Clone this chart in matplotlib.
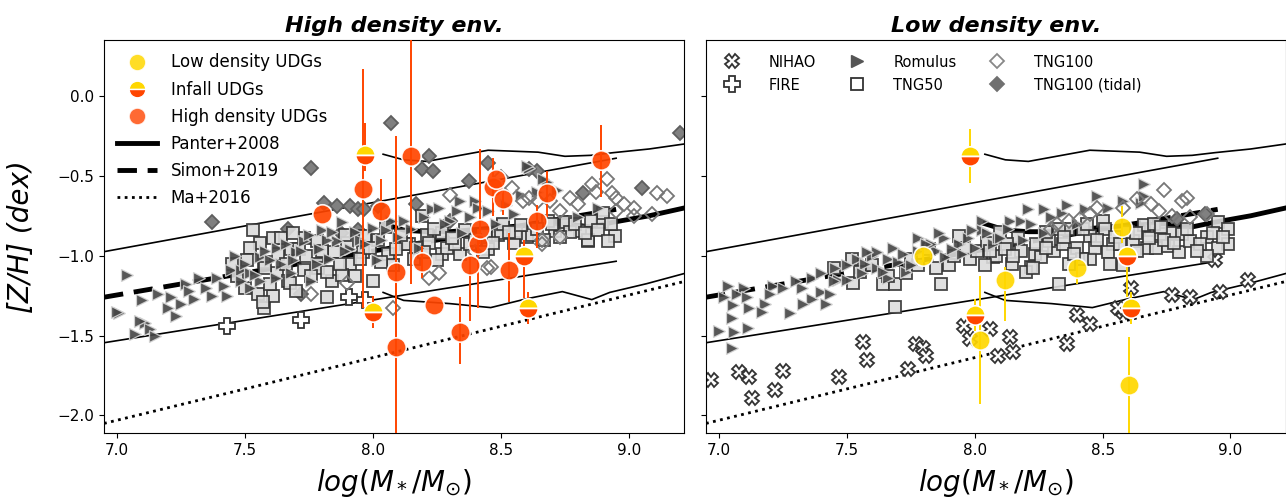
import matplotlib
matplotlib.use("Agg")
import matplotlib.pyplot as plt
from matplotlib.lines import Line2D

# ---------------- data ----------------
# reference relations
simon_x = [6.95, 8.95]
simon_y = [-1.26, -0.71]
simon_hi = [-0.975, -0.39]
simon_lo = [-1.545, -1.035]

panter_x = [8.04, 8.12, 8.21, 8.30, 8.45, 8.60, 8.75, 8.85, 8.94, 9.08, 9.22]
panter_y = [-0.80, -0.84, -0.85, -0.85, -0.83, -0.81, -0.80, -0.82, -0.79, -0.75, -0.70]
panter_hi_x = [8.04, 8.12, 8.21, 8.45, 8.645, 8.75, 8.85, 8.94, 9.08, 9.22]
panter_hi_y = [-0.365, -0.40, -0.41, -0.34, -0.352, -0.378, -0.372, -0.355, -0.332, -0.30]
panter_lo_x = [8.04, 8.12, 8.30, 8.46, 8.60, 8.74, 8.855, 8.925, 9.07, 9.22]
panter_lo_y = [-1.23, -1.28, -1.30, -1.325, -1.27, -1.225, -1.275, -1.23, -1.175, -1.11]

ma_x = [6.95, 9.22]
ma_y = [-2.05, -1.16]

# ---- high density panel: simulations ----
hi_rom = [(7.04, -1.12), (7.01, -1.36), (7.10, -1.28), (7.11, -1.42), (7.16, -1.24), (7.21, -1.26),
          (7.25, -1.30), (7.27, -1.18), (7.32, -1.14), (7.37, -1.25), (7.39, -1.14), (7.42, -1.19),
          (7.00, -1.35), (7.09, -1.41), (7.07, -1.49), (7.13, -1.46), (7.445, -1.09), (7.485, -1.09),
          (7.485, -1.16), (7.52, -1.20), (7.56, -1.01), (7.56, -1.16), (7.625, -0.95), (7.64, -1.05),
          (7.68, -1.11), (7.73, -0.91), (7.76, -1.16), (7.80, -0.84), (7.86, -0.91), (7.91, -0.96),
          (8.00, -0.825), (8.05, -0.84), (8.015, -1.03), (8.23, -0.71), (8.30, -0.78), (8.40, -0.66),
          (8.61, -0.45), (8.68, -0.54), (8.60, -0.44), (8.665, -0.52), (8.26, -0.70), (8.34, -0.655),
          (8.41, -0.70), (8.72, -0.59), (7.60, -1.03), (7.70, -0.98), (7.83, -1.02), (7.95, -0.90),
          (8.10, -0.88), (8.18, -0.95), (8.35, -0.86), (8.48, -0.80), (8.55, -0.74), (8.80, -0.76),
          (8.88, -0.70), (7.52, -1.11), (7.78, -1.05), (7.88, -0.79), (8.12, -0.78), (7.20, -1.33),
          (7.30, -1.27), (7.15, -1.50), (7.46, -1.00), (7.50, -1.05), (7.54, -1.12), (7.58, -0.97),
          (7.62, -1.14), (7.66, -0.93), (7.69, -1.03), (7.72, -0.97), (7.75, -0.87), (7.79, -0.96),
          (7.82, -0.90), (7.84, -0.85), (7.89, -0.97), (7.93, -0.85), (7.97, -0.93), (8.03, -0.90),
          (8.07, -0.78), (8.15, -0.83), (8.20, -0.76), (8.28, -0.80), (8.33, -0.72), (8.38, -0.76),
          (8.45, -0.72), (8.52, -0.68), (8.58, -0.62), (8.64, -0.60), (7.35, -1.20), (7.43, -1.25),
          (7.28, -1.22), (7.23, -1.38)]
hi_tng50 = [(7.53, -0.84), (7.56, -0.92), (7.52, -0.95), (7.61, -0.89), (7.64, -0.89), (7.68, -0.96),
            (7.71, -0.96), (7.51, -1.03), (7.575, -1.04), (7.625, -1.11), (7.67, -1.16), (7.73, -1.09),
            (7.78, -0.91), (7.78, -1.05), (7.84, -1.16), (7.85, -0.98), (7.91, -1.05), (7.97, -0.875),
            (8.00, -1.16), (7.575, -1.33), (7.61, -1.25), (7.55, -1.24), (7.50, -1.20), (7.73, -0.89),
            (7.82, -1.26), (7.88, -1.12), (7.675, -1.17), (7.785, -1.075), (7.96, -0.98), (8.06, -0.99),
            (8.14, -0.93), (8.21, -0.87), (8.27, -0.99), (8.34, -0.99), (8.44, -0.87), (8.49, -0.87),
            (8.51, -0.81), (8.55, -0.92), (8.60, -0.88), (8.71, -0.845), (8.75, -0.81), (8.81, -0.845),
            (8.84, -0.91), (8.895, -0.79), (8.945, -0.875), (8.685, -0.78), (8.90, -0.73), (8.19, -0.75),
            (8.13, -0.925), (8.17, -0.95), (8.22, -0.92), (8.29, -0.95), (8.32, -0.93), (8.50, -0.86),
            (8.56, -0.86), (8.62, -0.87), (8.70, -0.80), (8.755, -0.79), (8.77, -0.85), (8.85, -0.78),
            (8.84, -0.905), (8.51, -0.80), (8.27, -0.86), (8.02, -0.90), (8.08, -1.06), (7.90, -0.92),
            (8.38, -0.93), (8.45, -0.96), (7.57, -1.29), (7.45, -1.05), (7.47, -1.13), (7.58, -1.08),
            (7.60, -1.18), (7.63, -0.99), (7.66, -1.05), (7.70, -1.22), (7.74, -1.00), (7.76, -1.13),
            (7.80, -0.97), (7.82, -1.10), (7.87, -1.05), (7.89, -0.87), (7.93, -1.13), (7.95, -1.02),
            (7.99, -0.95), (8.03, -1.04), (8.05, -0.82), (8.09, -0.96), (8.11, -0.87), (8.16, -1.02),
            (8.20, -0.98), (8.24, -0.83), (8.25, -1.03), (8.31, -0.89), (8.36, -0.84), (8.40, -0.90),
            (8.43, -0.98), (8.47, -0.92), (8.53, -0.85), (8.58, -0.81), (8.64, -0.83), (8.67, -0.90),
            (8.73, -0.88), (8.79, -0.80), (8.83, -0.86), (8.88, -0.84), (8.92, -0.91), (8.93, -0.80),
            (7.69, -0.86)]
hi_tng100 = [(8.61, -0.64), (8.69, -0.66), (8.77, -0.64), (8.80, -0.675), (8.855, -0.55), (8.915, -0.52),
             (8.935, -0.61), (8.95, -0.64), (8.98, -0.675), (9.02, -0.70), (9.11, -0.61), (9.15, -0.625),
             (9.09, -0.74), (9.02, -0.75), (8.95, -0.72), (8.73, -0.72), (8.645, -0.66), (8.585, -0.66),
             (8.50, -0.51), (8.545, -0.575), (8.66, -0.925), (8.73, -0.885), (8.46, -1.07), (8.26, -1.11),
             (8.22, -1.14), (8.08, -1.325), (7.90, -1.17), (7.76, -1.24), (8.445, -1.075), (8.66, -0.905),
             (8.87, -0.60), (8.40, -0.98), (8.30, -0.62)]
hi_tidal = [(7.37, -0.79), (7.67, -0.83), (7.76, -0.45), (7.81, -0.67), (7.86, -0.69), (7.91, -0.69),
            (7.94, -0.71), (7.965, -0.71), (7.875, -0.86), (7.94, -0.84), (8.07, -0.17), (8.22, -0.375),
            (8.19, -0.46), (8.235, -0.47), (8.45, -0.42), (8.375, -0.53), (8.64, -0.47), (8.61, -0.46),
            (9.05, -0.575), (9.20, -0.23), (8.17, -0.675), (8.82, -0.61), (7.72, -1.24), (8.02, -0.69),
            (8.30, -0.78)]
hi_fire = [(7.43, -1.44), (7.72, -1.40), (7.905, -1.26), (7.97, -1.28)]

# ---- high density panel: observed UDGs (x, y, err_lo, err_hi) ----
hi_udg = [(7.80, -0.74, 0.0, 0.0), (7.96, -0.58, 0.75, 0.75), (8.03, -0.72, 0.06, 0.20),
          (8.09, -1.10, 0.50, 0.85), (8.15, -0.375, 0.80, 0.90), (8.19, -1.04, 0.10, 0.10),
          (8.24, -1.31, 0.0, 0.0), (8.34, -1.48, 0.20, 0.22), (8.38, -1.06, 0.35, 0.05),
          (8.41, -0.93, 0.40, 0.10), (8.42, -0.83, 0.10, 0.50), (8.47, -0.57, 0.18, 0.18),
          (8.48, -0.52, 0.0, 0.0), (8.51, -0.645, 0.10, 0.10), (8.53, -1.09, 0.20, 0.23),
          (8.64, -0.78, 0.17, 0.10), (8.68, -0.61, 0.15, 0.14), (8.89, -0.40, 0.23, 0.22),
          (8.09, -1.57, 0.80, 0.50)]
hi_infall = [(7.97, -0.37, 0.10, 0.20), (8.00, -1.355, 0.10, 0.10),
             (8.59, -1.005, 0.26, 0.10), (8.605, -1.33, 0.10, 0.10)]

# ---- low density panel: simulations ----
lo_rom = [(7.035, -1.19), (7.10, -1.20), (7.07, -1.24), (7.11, -1.26), (7.055, -1.31), (7.18, -1.30),
          (7.17, -1.35), (7.28, -1.36), (7.05, -1.39), (7.00, -1.47), (7.06, -1.48), (7.115, -1.45),
          (7.21, -1.19), (7.25, -1.20), (7.325, -1.20), (7.365, -1.27), (7.40, -1.23), (7.435, -1.24),
          (7.42, -1.30), (7.365, -1.14), (7.40, -1.11), (7.455, -1.08), (7.465, -1.155), (7.54, -1.02),
          (7.57, -1.05), (7.60, -1.00), (7.62, -1.075), (7.66, -1.02), (7.70, -1.04), (7.78, -0.89),
          (7.85, -0.97), (7.88, -0.89), (7.885, -1.01), (7.94, -0.925), (7.975, -0.89), (8.03, -0.78),
          (8.03, -0.84), (8.07, -0.93), (8.09, -0.89), (7.73, -1.105), (7.66, -1.14), (7.56, -1.11),
          (7.78, -0.97), (7.95, -0.99), (7.05, -1.58), (8.21, -0.71), (8.27, -0.71), (8.34, -0.73),
          (8.43, -0.71), (8.48, -0.625), (8.58, -0.66), (8.65, -0.67), (8.66, -0.55), (8.66, -0.625),
          (8.14, -0.78), (8.18, -0.78), (8.27, -0.86), (8.19, -0.90), (8.10, -0.89), (7.50, -1.15),
          (7.62, -0.98), (7.83, -0.93), (8.00, -0.95), (8.40, -0.80), (7.20, -1.24), (7.30, -1.16),
          (7.33, -1.30), (7.45, -1.16), (7.50, -1.06), (7.58, -0.98), (7.64, -1.10), (7.68, -0.95),
          (7.72, -0.99), (7.75, -1.06), (7.81, -0.93), (7.86, -0.86), (7.91, -0.96), (7.99, -0.84),
          (8.05, -0.86), (8.13, -0.83), (8.22, -0.80), (8.30, -0.76), (8.36, -0.68), (8.52, -0.70),
          (7.12, -1.33), (7.02, -1.26)]
lo_tng50 = [(7.52, -1.02), (7.525, -1.17), (7.64, -1.175), (7.69, -1.175), (7.69, -1.32), (7.87, -1.175),
            (7.94, -0.875), (7.98, -1.02), (7.73, -1.11), (8.07, -1.01), (7.78, -1.06), (8.01, -0.97),
            (8.085, -1.00), (8.145, -1.05), (8.22, -1.07), (8.235, -0.99), (8.31, -0.97), (8.345, -0.925),
            (8.365, -0.83), (8.40, -0.95), (8.45, -0.875), (8.45, -1.02), (8.47, -0.95), (8.50, -0.78),
            (8.51, -0.83), (8.54, -0.925), (8.425, -0.83), (8.33, -0.83), (8.29, -0.91), (8.24, -0.925),
            (8.18, -0.97), (8.17, -0.89), (8.125, -0.925), (8.69, -0.84), (8.725, -0.865), (8.77, -0.855),
            (8.81, -0.865), (8.675, -0.95), (8.71, -0.95), (8.755, -0.94), (8.80, -0.98), (8.84, -0.91),
            (8.91, -0.885), (8.95, -0.79), (8.99, -0.83), (8.99, -0.925), (8.95, -0.95), (8.91, -1.00),
            (8.62, -0.91), (8.66, -0.81), (8.70, -0.80), (8.33, -1.175), (8.58, -1.06), (8.635, -0.97),
            (8.42, -1.02), (8.37, -1.05), (8.26, -1.01), (8.20, -1.105), (8.23, -1.08), (8.05, -0.92),
            (8.10, -0.85), (8.28, -0.85), (8.55, -0.88), (8.60, -0.85), (8.88, -0.93), (8.93, -0.86),
            (8.74, -0.90), (8.48, -0.90), (7.90, -1.06), (7.96, -0.95), (7.45, -1.08), (7.55, -1.10),
            (7.60, -1.06), (7.66, -1.13), (7.75, -1.02), (7.82, -0.96), (7.85, -1.08), (7.92, -1.00),
            (8.04, -1.06), (8.12, -0.96), (8.15, -1.00), (8.28, -0.95), (8.35, -0.88), (8.39, -0.99),
            (8.44, -0.80), (8.52, -0.98), (8.57, -0.93), (8.63, -0.86), (8.68, -0.89), (8.73, -0.82),
            (8.78, -0.92), (8.83, -0.83), (8.87, -0.97), (8.97, -0.88), (8.53, -1.05), (8.06, -0.97)]
lo_tng100 = [(8.74, -0.59), (8.81, -0.66), (8.83, -0.64), (8.69, -0.675), (8.72, -0.72), (8.77, -0.75),
             (8.84, -0.76), (8.91, -0.74), (8.48, -0.70), (8.41, -0.77), (8.37, -0.78), (8.32, -0.80),
             (8.635, -0.645), (8.30, -0.83), (8.45, -0.74), (8.58, -0.70)]
lo_tidal = [(8.90, -0.74), (8.79, -0.77)]
lo_nihao = [(6.97, -1.78), (7.08, -1.73), (7.12, -1.76), (7.13, -1.89), (7.22, -1.84), (7.25, -1.72),
            (7.47, -1.76), (7.565, -1.54), (7.58, -1.655), (7.74, -1.71), (7.77, -1.55), (7.80, -1.58),
            (7.81, -1.63), (7.96, -1.44), (7.98, -1.52), (8.06, -1.46), (8.09, -1.63), (8.14, -1.51),
            (8.15, -1.60), (8.36, -1.55), (8.40, -1.37), (8.45, -1.43), (8.58, -1.35), (8.61, -1.20),
            (8.77, -1.245), (8.84, -1.26), (8.96, -1.225), (9.07, -1.15), (8.94, -1.03), (8.56, -1.33)]

# ---- low density panel: observed UDGs ----
lo_udg = [(7.80, -1.00, 0.04, 0.04), (8.12, -1.15, 0.26, 0.08), (8.02, -1.53, 0.40, 0.40),
          (8.40, -1.075, 0.10, 0.05), (8.575, -0.82, 0.10, 0.13), (8.605, -1.81, 0.35, 0.30)]
lo_infall = [(7.98, -0.375, 0.17, 0.17), (8.00, -1.37, 0.10, 0.10),
             (8.595, -1.00, 0.26, 0.05), (8.61, -1.33, 0.10, 0.10)]

YELLOW = "#FFD700"
ORANGE = "#FF4500"


def xs(pts):
    return [p[0] for p in pts]


def ys(pts):
    return [p[1] for p in pts]


def relations(ax):
    ax.plot(simon_x, simon_y, color="black", lw=3.5, ls=(0, (4, 2.2)), zorder=1)
    ax.plot(simon_x, simon_hi, color="black", lw=1.2, zorder=1)
    ax.plot(simon_x, simon_lo, color="black", lw=1.2, zorder=1)
    ax.plot(panter_x, panter_y, color="black", lw=3.5, zorder=1)
    ax.plot(panter_hi_x, panter_hi_y, color="black", lw=1.2, zorder=1)
    ax.plot(panter_lo_x, panter_lo_y, color="black", lw=1.2, zorder=1)
    ax.plot(ma_x, ma_y, color="black", lw=2.0, ls=(0, (1, 1.6)), zorder=1)


def sims(ax, rom, tng50, tng100, tidal, nihao=None, fire=None):
    if nihao:
        ax.plot(xs(nihao), ys(nihao), "X", ls="none", ms=10, mfc="white", mec="#333333", mew=1.3, zorder=2)
    if fire:
        ax.plot(xs(fire), ys(fire), "P", ls="none", ms=11, mfc="white", mec="#333333", mew=1.3, zorder=2)
    ax.plot(xs(tidal), ys(tidal), "D", ls="none", ms=7, mfc="#808080", mec="#5e5e5e", mew=1.3, zorder=2)
    ax.plot(xs(tng50), ys(tng50), "s", ls="none", ms=8, mfc="#dcdcdc", mec="#333333", mew=1.3,
            alpha=0.9, zorder=2)
    ax.plot(xs(rom), ys(rom), ">", ls="none", ms=8, mfc="#454545", mec="#d5d5d5", mew=0.9,
            alpha=0.9, zorder=3)
    ax.plot(xs(tng100), ys(tng100), "D", ls="none", ms=7, mfc="none", mec="#777777", mew=1.3, zorder=3)


def udgs(ax, full, infall, full_color, ecolor):
    for pts in (full, infall):
        ax.errorbar(xs(pts), ys(pts), yerr=[[p[2] for p in pts], [p[3] for p in pts]],
                    fmt="none", ecolor=ecolor, elinewidth=1.4, capsize=0, zorder=4)
    ax.plot(xs(full), ys(full), "o", ls="none", ms=14, mfc=full_color, mec="white", mew=1.2,
            alpha=0.92, zorder=5)
    ax.plot(xs(infall), ys(infall), "o", ls="none", ms=14, fillstyle="top", mfc=YELLOW,
            mfcalt=ORANGE, mec="white", mew=1.2, zorder=5)


fig = plt.figure(figsize=(12.86, 5.03), dpi=100)
ax1 = fig.add_axes([104 / 1286, 70 / 503, 580 / 1286, 393 / 503])
ax2 = fig.add_axes([706 / 1286, 70 / 503, 579.5 / 1286, 393 / 503])

for ax in (ax1, ax2):
    relations(ax)
    ax.set_xlim(6.95, 9.215)
    ax.set_ylim(-2.11, 0.35)
    ax.set_xticks([7.0, 7.5, 8.0, 8.5, 9.0])
    ax.set_yticks([0.0, -0.5, -1.0, -1.5, -2.0])
    ax.tick_params(labelsize=11)
    ax.set_xlabel(r"$log(M_*/M_{\odot})$", fontsize=20, labelpad=7)

sims(ax1, hi_rom, hi_tng50, hi_tng100, hi_tidal, fire=hi_fire)
udgs(ax1, hi_udg, hi_infall, ORANGE, ORANGE)

sims(ax2, lo_rom, lo_tng50, lo_tng100, lo_tidal, nihao=lo_nihao)
udgs(ax2, lo_udg, lo_infall, YELLOW, YELLOW)

ax2.set_yticklabels([])
ax1.set_ylabel("[Z/H] (dex)", fontsize=20, fontstyle="italic", labelpad=16)
ax1.set_title("High density env.", fontsize=16, fontweight="bold", fontstyle="italic")
ax2.set_title("Low density env.", fontsize=16, fontweight="bold", fontstyle="italic")

# legends
h_left = [
    Line2D([], [], ls="none", marker="o", ms=12, mfc=YELLOW, mec="white", alpha=0.85),
    Line2D([], [], ls="none", marker="o", ms=12, fillstyle="top", mfc=YELLOW, mfcalt=ORANGE, mec="white"),
    Line2D([], [], ls="none", marker="o", ms=12, mfc=ORANGE, mec="white", alpha=0.8),
    Line2D([], [], color="black", lw=3.5),
    Line2D([], [], color="black", lw=3.5, ls=(0, (4, 2.2))),
    Line2D([], [], color="black", lw=2.0, ls=(0, (1, 1.6))),
]
l_left = ["Low density UDGs", "Infall UDGs", "High density UDGs", "Panter+2008", "Simon+2019", "Ma+2016"]
ax1.legend(h_left, l_left, loc="upper left", frameon=False, fontsize=12, handlelength=2.4,
           handletextpad=0.8, labelspacing=0.55, borderaxespad=0.4)

h_right = [
    Line2D([], [], ls="none", marker="X", ms=10, mfc="white", mec="#333333", mew=1.3),
    Line2D([], [], ls="none", marker="P", ms=11, mfc="white", mec="#333333", mew=1.3),
    Line2D([], [], ls="none", marker=">", ms=8, mfc="#555555", mec="#555555"),
    Line2D([], [], ls="none", marker="s", ms=8, mfc="white", mec="#333333", mew=1.3),
    Line2D([], [], ls="none", marker="D", ms=7, mfc="white", mec="#888888", mew=1.3),
    Line2D([], [], ls="none", marker="D", ms=7, mfc="#707070", mec="#707070", mew=1.3),
]
l_right = ["NIHAO", "FIRE", "Romulus", "TNG50", "TNG100", "TNG100 (tidal)"]
ax2.legend(h_right, l_right, loc="upper left", ncol=3, frameon=False, fontsize=10.5,
           handlelength=1.6, handletextpad=1.7, columnspacing=2.0, labelspacing=0.55,
           borderaxespad=0.6)

fig.savefig("out.png", dpi=100)
